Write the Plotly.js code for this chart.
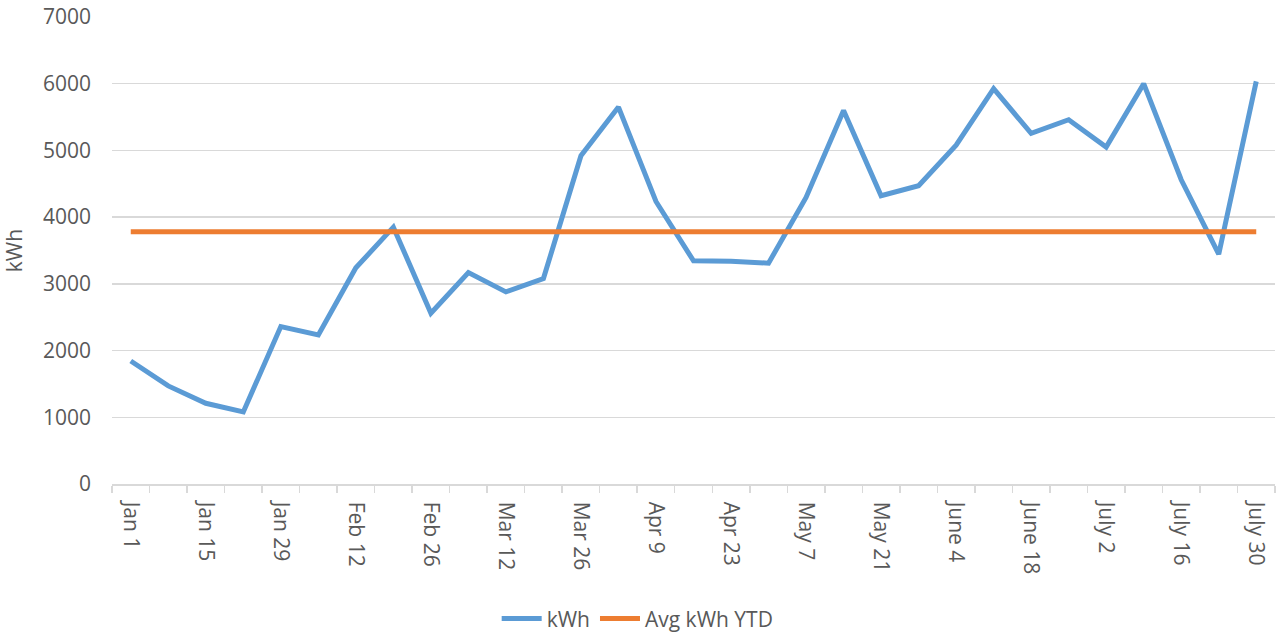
<!DOCTYPE html>
<html>
<head>
<meta charset="utf-8">
<script src="https://cdn.plot.ly/plotly-3.0.1.min.js"></script>
<style>html,body{margin:0;padding:0;background:#fff;}#chart{width:1277px;height:635px;}</style>
</head>
<body>
<div id="chart"></div>
<script>
const categories = ["Jan 1","Jan 8","Jan 15","Jan 22","Jan 29","Feb 5","Feb 12","Feb 19","Feb 26","Mar 5","Mar 12","Mar 19","Mar 26","Apr 2","Apr 9","Apr 16","Apr 23","Apr 30","May 7","May 14","May 21","May 28","June 4","June 11","June 18","June 25","July 2","July 9","July 16","July 23","July 30"];
const kwh = [1844,1470,1210,1080,2360,2235,3240,3850,2560,3170,2880,3080,4920,5650,4235,3345,3340,3310,4295,5600,4320,4470,5080,5925,5255,5460,5050,6000,4560,3445,6035];
const avgKwhYTD = 3780;
const avgSeries = categories.map(() => avgKwhYTD);
const idx = categories.map((_, i) => i);
const tickIdx = idx.filter(i => i % 2 === 0);
const tickText = tickIdx.map(i => categories[i]);
const yTicks = [0,1000,2000,3000,4000,5000,6000,7000];

const FONT = "Open Sans, DejaVu Sans, sans-serif";
const FS = 21;
const traces = [
  {x: idx, y: kwh, name: "kWh", type: "scatter", mode: "lines",
   line: {color: "#5B9BD5", width: 5}, text: categories, hoverinfo: "text+y"},
  {x: idx, y: avgSeries, name: "Avg kWh YTD", type: "scatter", mode: "lines",
   line: {color: "#ED7D31", width: 5}, text: categories, hoverinfo: "text+y"}
];
const layout = {
  width: 1277, height: 635,
  margin: {l: 112, r: 2, t: 17, b: 151, autoexpand: false},
  paper_bgcolor: "#fff", plot_bgcolor: "#fff",
  font: {family: FONT, size: FS, color: "#595959"},
  showlegend: true,
  legend: {orientation: "h", x: 0.452, xanchor: "center", y: -0.289, yanchor: "middle",
           font: {family: FONT, size: FS, color: "#595959"}, itemwidth: 40, tracegroupgap: 0},
  xaxis: {
    type: "linear", range: [-0.5, 30.5], tickmode: "array", tickvals: tickIdx, ticktext: tickText,
    tickangle: 90, ticks: "", showgrid: false, zeroline: false,
    showline: true, linecolor: "#d9d9d9", linewidth: 1.5,
    ticklabelstandoff: 12, automargin: false,
    minor: {ticks: "outside", tick0: -0.5, dtick: 1, ticklen: 7, tickcolor: "#d9d9d9", tickwidth: 1.5, showgrid: false},
    tickfont: {family: FONT, size: FS, color: "#595959"}
  },
  yaxis: {
    range: [0, 7000], tickmode: "array", tickvals: yTicks, ticks: "",
    showgrid: true, gridcolor: "#d9d9d9", gridwidth: 1.5, zeroline: false, showline: false,
    ticklabelstandoff: 20, automargin: false,
    tickfont: {family: FONT, size: FS, color: "#595959"},
    title: {text: "kWh", font: {family: FONT, size: FS, color: "#595959"}, standoff: 14}
  }
};
Plotly.newPlot("chart", traces, layout, {displayModeBar: false, staticPlot: true});
</script>
</body>
</html>
